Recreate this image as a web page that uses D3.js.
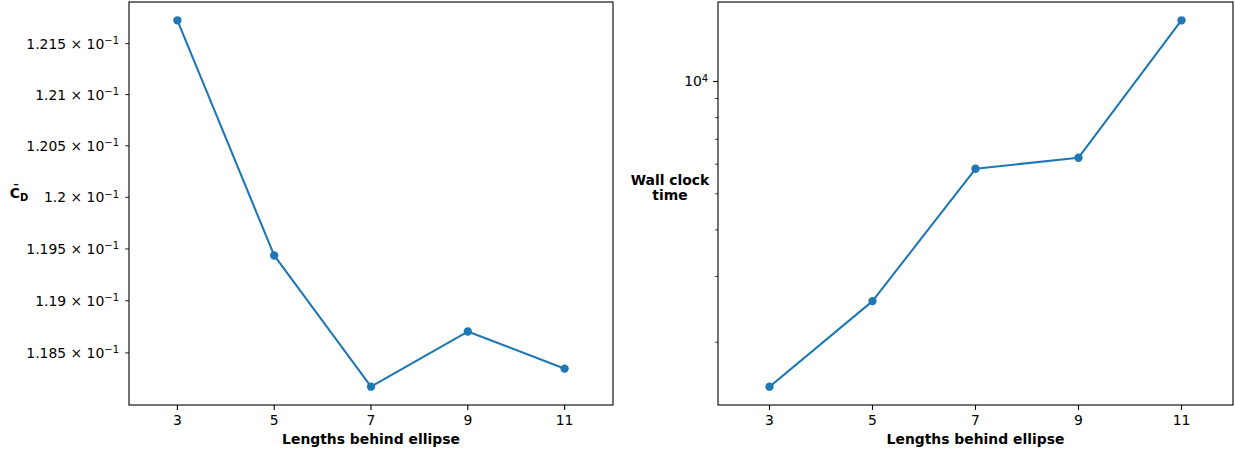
<!DOCTYPE html>
<html>
<head>
<meta charset="utf-8">
<script src="https://cdn.jsdelivr.net/npm/d3@7"></script>
<style>
  html, body { margin: 0; padding: 0; background: #fff; }
  svg { display: block; font-family: "DejaVu Sans", sans-serif; }
</style>
</head>
<body>
<svg id="fig" width="1235" height="455"></svg>
<script>
// Domain lengths behind the ellipse (x values shared by both panels)
const lengths = [3, 5, 7, 9, 11];
// Mean drag coefficient for each domain length
const dragCoef = [0.121729, 0.119437, 0.118177, 0.118705, 0.118350];
// Wall clock time (s) for each domain length
const wallTime = [1520, 2578, 5835, 6247, 14588];

// Tick values
const xTicks = [3, 5, 7, 9, 11];
const cdTicks = [0.1185, 0.119, 0.1195, 0.12, 0.1205, 0.121, 0.1215];
const cdTickMantissa = ["1.185", "1.19", "1.195", "1.2", "1.205", "1.21", "1.215"];
const timeMajorTicks = [10000];
const timeMinorTicks = [2000, 3000, 4000, 5000, 6000, 7000, 8000, 9000];

const svg = d3.select("#fig");
const COLOR = "#1f77b4";
const FS = 13.9;
const TICK_MAJOR = 4.9, TICK_MINOR = 2.8, PAD = 4.9;

// log-space padding like matplotlib's 5% margins
function logPadded(vals) {
  const lo = Math.log10(d3.min(vals)), hi = Math.log10(d3.max(vals));
  const m = (hi - lo) * 0.05;
  return [Math.pow(10, lo - m), Math.pow(10, hi + m)];
}

function panel(opt) {
  const { left, right, top, bottom } = opt;
  const g = svg.append("g");
  const x = d3.scaleLinear().domain([2, 12]).range([left, right]);
  const y = d3.scaleLog().domain(logPadded(opt.values)).range([bottom, top]);

  // x ticks
  const xt = g.append("g");
  xTicks.forEach(v => {
    xt.append("line").attr("x1", x(v)).attr("x2", x(v))
      .attr("y1", bottom).attr("y2", bottom + TICK_MAJOR)
      .attr("stroke", "#000").attr("stroke-width", 1.1);
    xt.append("text").attr("x", x(v)).attr("y", bottom + TICK_MAJOR + PAD)
      .attr("dy", "0.76em").attr("text-anchor", "middle")
      .attr("font-size", FS).attr("fill", "#000").text(v);
  });
  g.append("text").attr("x", (left + right) / 2).attr("y", bottom + 39)
    .attr("text-anchor", "middle").attr("font-size", FS)
    .attr("font-weight", "bold").text("Lengths behind ellipse");

  opt.yTicks(g, y, left);

  // line + markers
  const pts = lengths.map((d, i) => [x(d), y(opt.values[i])]);
  g.append("path").attr("d", d3.line()(pts)).attr("fill", "none")
    .attr("stroke", COLOR).attr("stroke-width", 2.08)
    .attr("stroke-linejoin", "round").attr("stroke-linecap", "square");
  g.selectAll("circle.m").data(pts).join("circle")
    .attr("cx", d => d[0]).attr("cy", d => d[1]).attr("r", 4.17)
    .attr("fill", COLOR);

  // frame
  g.append("rect").attr("x", left).attr("y", top)
    .attr("width", right - left).attr("height", bottom - top)
    .attr("fill", "none").attr("stroke", "#000").attr("stroke-width", 1.1);
  return g;
}

// Left panel: drag coefficient
const gL = panel({
  left: 129, right: 613, top: 2, bottom: 405,
  values: dragCoef,
  yTicks: (g, y, left) => {
    cdTicks.forEach((v, i) => {
      const yy = y(v);
      g.append("line").attr("x1", left - TICK_MINOR - 1).attr("x2", left)
        .attr("y1", yy).attr("y2", yy).attr("stroke", "#000").attr("stroke-width", 0.9);
      const t = g.append("text").attr("x", left - 10).attr("y", yy)
        .attr("dy", "0.36em").attr("text-anchor", "end")
        .attr("font-size", FS).attr("fill", "#000");
      t.append("tspan").text(cdTickMantissa[i] + " \u00d7 10");
      t.append("tspan").attr("dy", "-0.45em").attr("font-size", FS * 0.72).text("\u22121");
    });
  }
});
const cdLabel = gL.append("text").attr("x", 19).attr("y", 198)
  .attr("text-anchor", "middle").attr("font-size", FS).attr("font-weight", "bold");
cdLabel.append("tspan").text("C\u0304");
cdLabel.append("tspan").attr("dy", "0.25em").attr("font-size", FS * 0.72).text("D");

// Right panel: wall clock time
const gR = panel({
  left: 718, right: 1233, top: 2, bottom: 405,
  values: wallTime,
  yTicks: (g, y, left) => {
    timeMinorTicks.forEach(v => {
      g.append("line").attr("x1", left - TICK_MINOR).attr("x2", left)
        .attr("y1", y(v)).attr("y2", y(v)).attr("stroke", "#000").attr("stroke-width", 0.8);
    });
    timeMajorTicks.forEach(v => {
      g.append("line").attr("x1", left - TICK_MAJOR).attr("x2", left)
        .attr("y1", y(v)).attr("y2", y(v)).attr("stroke", "#000").attr("stroke-width", 1.1);
      const t = g.append("text").attr("x", left - TICK_MAJOR - PAD).attr("y", y(v))
        .attr("dy", "0.36em").attr("text-anchor", "end")
        .attr("font-size", FS).attr("fill", "#000");
      t.append("tspan").text("10");
      t.append("tspan").attr("dy", "-0.45em").attr("font-size", FS * 0.72)
        .text(Math.round(Math.log10(v)));
    });
  }
});
const wl = gR.append("text").attr("x", 670).attr("y", 185)
  .attr("text-anchor", "middle").attr("font-size", FS).attr("font-weight", "bold");
wl.append("tspan").attr("x", 670).text("Wall clock");
wl.append("tspan").attr("x", 670).attr("dy", "1.1em").text("time");
</script>
</body>
</html>
